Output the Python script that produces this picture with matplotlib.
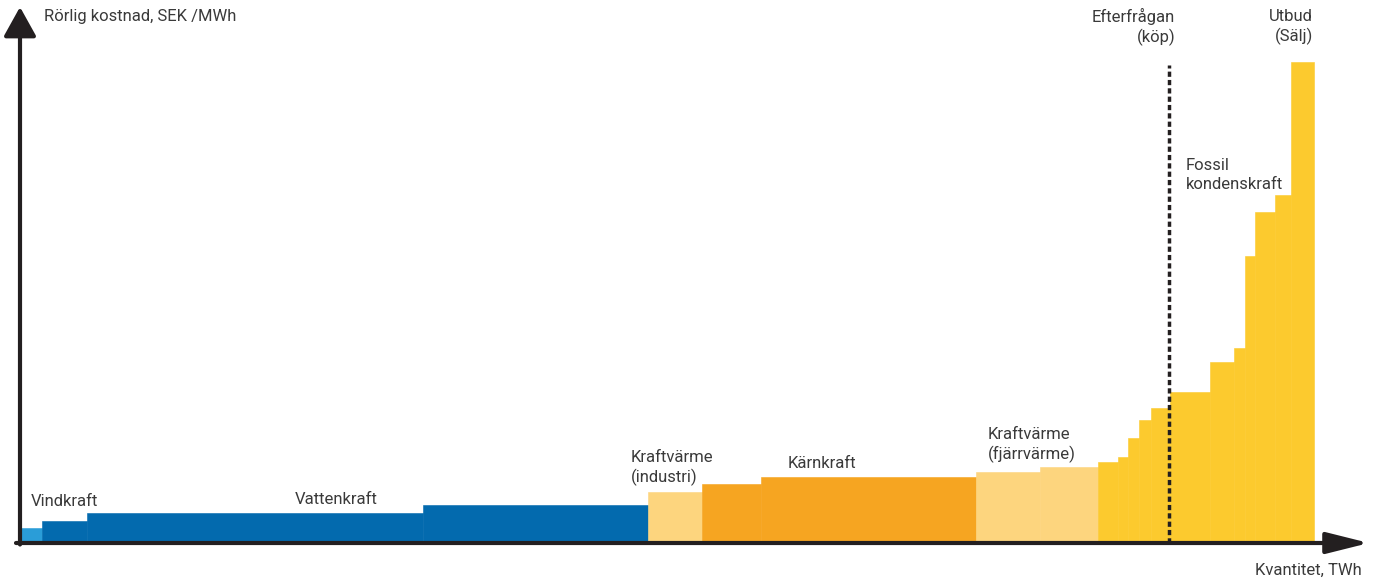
import numpy as np
import matplotlib.pyplot as plt

plt.rcParams['font.family'] = ['Roboto', 'DejaVu Sans']

# supply blocks per technology: quantity (TWh) and variable cost (SEK/MWh)
vind_twh = [2.1]
vind_cost = [15]
vatten_twh = [4.5, 33.6, 22.5]
vatten_cost = [22, 30, 38]
kv_ind_twh = [5.4]
kv_ind_cost = [51]
karn_twh = [5.9, 21.5]
karn_cost = [59, 66]
kv_fj_twh = [6.4, 5.8]
kv_fj_cost = [71, 76]
fossil_twh = [2.0, 1.0, 1.1, 1.2, 1.9, 4.0, 2.4, 1.1, 1.0, 2.0, 1.6, 2.3]
fossil_cost = [81, 86, 105, 123, 135, 151, 181, 195, 287, 331, 348, 481]

demand_twh = 114.9
demand_top = 478

blocks = [
    (vind_twh, vind_cost, '#2a9dd8'),
    (vatten_twh, vatten_cost, '#036aae'),
    (kv_ind_twh, kv_ind_cost, '#fdd57e'),
    (karn_twh, karn_cost, '#f6a521'),
    (kv_fj_twh, kv_fj_cost, '#fdd57e'),
    (fossil_twh, fossil_cost, '#fcca2e'),
]

fig = plt.figure(figsize=(13.78, 5.78), dpi=100)
ax = fig.add_axes([20 / 1378, 35 / 578, 1342 / 1378, 535 / 578])
ax.set_xlim(0, 134.2)
ax.set_ylim(0, 535)
ax.axis('off')

start = 0.1
for twh, cost, color in blocks:
    left = start + np.concatenate([[0], np.cumsum(twh)[:-1]])
    ax.bar(left, cost, width=twh, align='edge', color=color,
           edgecolor=color, linewidth=0.4)
    start += sum(twh)

ax.plot([demand_twh, demand_twh], [0, demand_top], color='#231f20',
        lw=2.5, linestyle=(0, (1.5, 0.9)), zorder=3)

axis_col = '#231f20'
ax.annotate('', xy=(134.9, 0), xytext=(-0.4, 0),
            arrowprops=dict(arrowstyle='-|>,head_length=2.6,head_width=0.65',
                            lw=3, color=axis_col, mutation_scale=10,
                            shrinkA=0, shrinkB=0),
            annotation_clip=False)
ax.annotate('', xy=(0, 536), xytext=(0, -1.5),
            arrowprops=dict(arrowstyle='-|>,head_length=1.8,head_width=1.0',
                            lw=3, color=axis_col, mutation_scale=10,
                            shrinkA=0, shrinkB=0),
            annotation_clip=False)

txt = dict(color='#3a3a3a', fontsize=12, clip_on=False, linespacing=1.28)
ax.text(2.4, 526, 'Rörlig kostnad, SEK /MWh', va='center', ha='left', **txt)
ax.text(1.1, 42, 'Vindkraft', va='center', ha='left', **txt)
ax.text(27.5, 43, 'Vattenkraft', va='center', ha='left', **txt)
ax.text(61.1, 75, 'Kraftvärme\n(industri)', va='center', ha='left', **txt)
ax.text(76.8, 80, 'Kärnkraft', va='center', ha='left', **txt)
ax.text(96.8, 98, 'Kraftvärme\n(fjärrvärme)', va='center', ha='left', **txt)
ax.text(116.6, 368, 'Fossil\nkondenskraft', va='center', ha='left', **txt)
ax.text(115.5, 516, 'Efterfrågan\n(köp)', va='center', ha='right',
        multialignment='right', **txt)
ax.text(129.3, 516, 'Utbud\n(Sälj)', va='center', ha='right',
        multialignment='right', **txt)
ax.text(134.2, -27, 'Kvantitet, TWh', va='center', ha='right', **txt)

fig.savefig('out.png', dpi=100)
